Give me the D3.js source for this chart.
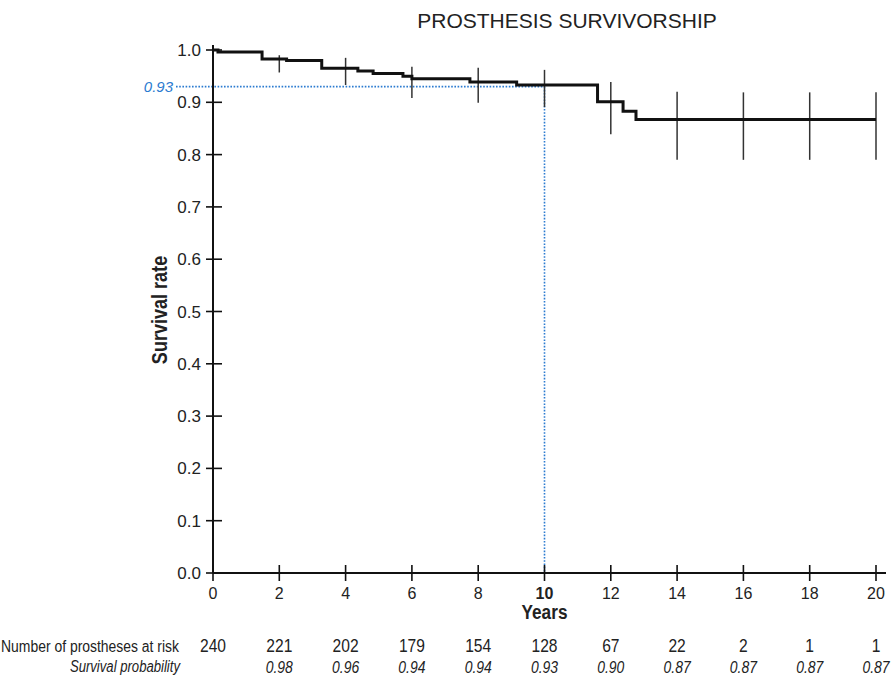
<!DOCTYPE html>
<html>
<head>
<meta charset="utf-8">
<script src="https://cdn.jsdelivr.net/npm/d3@7"></script>
<style>
  body { margin: 0; background: #fff; }
  svg text { font-family: "Liberation Sans", Arial, sans-serif; fill: #222; }
</style>
</head>
<body>
<svg id="chart" width="892" height="677"></svg>
<script>
// Kaplan-Meier steps
const stepTimes = [0, 0.15, 1.48, 2.22, 3.28, 4.37, 4.83, 5.73, 6.0, 7.75, 9.16, 11.6, 12.37, 12.76, 20];
const stepSurv  = [1.0, 0.996, 0.983, 0.980, 0.965, 0.960, 0.955, 0.950, 0.945, 0.939, 0.933, 0.901, 0.883, 0.867, 0.867];

// vertical interval bars at every second year
const barYears = [2, 4, 6, 8, 10, 12, 14, 16, 18, 20];
const barUpper = [0.990, 0.985, 0.968, 0.966, 0.962, 0.939, 0.920, 0.919, 0.919, 0.919];
const barLower = [0.957, 0.933, 0.908, 0.899, 0.891, 0.839, 0.790, 0.790, 0.790, 0.790];

// table under the chart
const tableYears = [0, 2, 4, 6, 8, 10, 12, 14, 16, 18, 20];
const atRisk = [240, 221, 202, 179, 154, 128, 67, 22, 2, 1, 1];
const survProb = ["", "0.98", "0.96", "0.94", "0.94", "0.93", "0.90", "0.87", "0.87", "0.87", "0.87"];

const yTicks = [0, 0.1, 0.2, 0.3, 0.4, 0.5, 0.6, 0.7, 0.8, 0.9, 1.0];
const refYear = 10, refSurv = 0.93;

const svg = d3.select('#chart');
const x = d3.scaleLinear().domain([0, 20]).range([213, 876]);
const y = d3.scaleLinear().domain([0, 1]).range([573, 50]);

// no narrow font installed, so squeeze the glyphs instead
function narrow(sel, f) {
    sel.each(function () {
        const w = this.getComputedTextLength();
        if (w > 0) {
            d3.select(this)
                .attr('textLength', w * f)
                .attr('lengthAdjust', 'spacingAndGlyphs');
        }
    });
}

// title
svg.append('text')
    .attr('x', 567).attr('y', 28)
    .attr('text-anchor', 'middle')
    .style('font-size', '21px')
    .text('PROSTHESIS SURVIVORSHIP');

// reference lines (blue dotted)
const blue = '#2b7bd0';
svg.append('line')
    .attr('x1', 176).attr('x2', x(refYear))
    .attr('y1', y(refSurv)).attr('y2', y(refSurv))
    .attr('stroke', blue).attr('stroke-width', 1.6)
    .attr('stroke-dasharray', '1.6,1.6');
svg.append('line')
    .attr('x1', x(refYear)).attr('x2', x(refYear))
    .attr('y1', y(refSurv)).attr('y2', y(0))
    .attr('stroke', blue).attr('stroke-width', 1.6)
    .attr('stroke-dasharray', '1.6,1.6');
svg.append('text')
    .attr('x', 173).attr('y', y(refSurv) + 5)
    .attr('text-anchor', 'end')
    .style('font-size', '15px').style('font-style', 'italic')
    .style('fill', blue)
    .text(refSurv.toFixed(2));

// axes
const yAxis = svg.append('g');
yAxis.append('line')
    .attr('x1', x(0)).attr('x2', x(0)).attr('y1', 45).attr('y2', y(0))
    .attr('stroke', '#111').attr('stroke-width', 2);
yAxis.selectAll('line.tick').data(yTicks).enter().append('line')
    .attr('class', 'tick')
    .attr('x1', x(0) - 7).attr('x2', x(0) + 9)
    .attr('y1', d => y(d)).attr('y2', d => y(d))
    .attr('stroke', '#111').attr('stroke-width', 1.6);
yAxis.selectAll('text').data(yTicks).enter().append('text')
    .attr('x', 201).attr('y', d => y(d) + 6)
    .attr('text-anchor', 'end')
    .style('font-size', '17px')
    .text(d => d.toFixed(1));

const xAxis = svg.append('g');
xAxis.append('line')
    .attr('x1', x(0)).attr('x2', 886).attr('y1', y(0)).attr('y2', y(0))
    .attr('stroke', '#111').attr('stroke-width', 2);
xAxis.selectAll('line.tick').data(tableYears).enter().append('line')
    .attr('class', 'tick')
    .attr('x1', d => x(d)).attr('x2', d => x(d))
    .attr('y1', y(0) - 8).attr('y2', y(0) + 8)
    .attr('stroke', '#111').attr('stroke-width', 1.6);
xAxis.selectAll('text').data(tableYears).enter().append('text')
    .attr('x', d => x(d)).attr('y', 599)
    .attr('text-anchor', 'middle')
    .style('font-size', '16px')
    .style('font-weight', d => d === refYear ? 'bold' : 'normal')
    .text(d => d);

svg.append('text')
    .attr('x', x(10)).attr('y', 619)
    .attr('text-anchor', 'middle')
    .style('font-size', '20px').style('font-weight', 'bold')
    .text('Years')
    .call(narrow, 0.86);

svg.append('text')
    .attr('transform', 'translate(167,310) rotate(-90)')
    .attr('text-anchor', 'middle')
    .style('font-size', '22px').style('font-weight', 'bold')
    .text('Survival rate')
    .call(narrow, 0.82);

// interval bars
svg.selectAll('line.bar').data(barYears).enter().append('line')
    .attr('class', 'bar')
    .attr('x1', d => x(d)).attr('x2', d => x(d))
    .attr('y1', (d, i) => y(barUpper[i])).attr('y2', (d, i) => y(barLower[i]))
    .attr('stroke', '#333').attr('stroke-width', 1.5);

// survival curve
const line = d3.line()
    .x((d, i) => x(stepTimes[i]))
    .y(d => y(d))
    .curve(d3.curveStepAfter);
svg.append('path')
    .datum(stepSurv)
    .attr('d', line)
    .attr('fill', 'none')
    .attr('stroke', '#111')
    .attr('stroke-width', 3);

// at-risk table
svg.append('text')
    .attr('x', 179).attr('y', 652)
    .attr('text-anchor', 'end')
    .style('font-size', '16px')
    .text('Number of prostheses at risk')
    .call(narrow, 0.87);
svg.append('text')
    .attr('x', 180).attr('y', 672)
    .attr('text-anchor', 'end')
    .style('font-size', '16px').style('font-style', 'italic')
    .text('Survival probability')
    .call(narrow, 0.82);

svg.selectAll('text.risk').data(atRisk).enter().append('text')
    .attr('class', 'risk')
    .attr('x', (d, i) => x(tableYears[i])).attr('y', 652)
    .attr('text-anchor', 'middle')
    .style('font-size', '19px')
    .text(d => d)
    .call(narrow, 0.82);
svg.selectAll('text.prob').data(survProb).enter().append('text')
    .attr('class', 'prob')
    .attr('x', (d, i) => x(tableYears[i])).attr('y', 673)
    .attr('text-anchor', 'middle')
    .style('font-size', '17px').style('font-style', 'italic')
    .text(d => d)
    .call(narrow, 0.82);
</script>
</body>
</html>
